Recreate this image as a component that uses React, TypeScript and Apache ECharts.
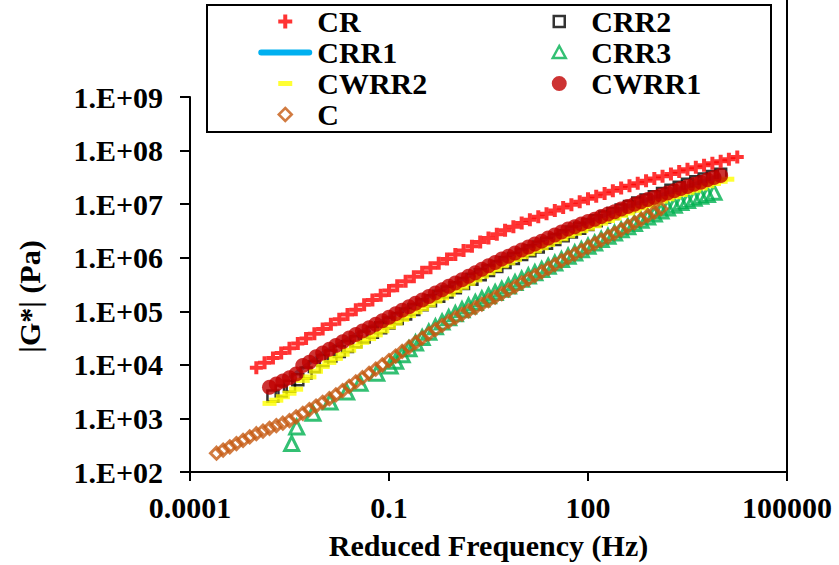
import React, { useEffect, useRef } from "react";
import * as echarts from "echarts";

const FONT = "Liberation Serif";

// Frequency grid, 10 points per decade (2.51e-4 ... 1.26e4 Hz)
const freqTenth = [
  2.51e-4, 3.16e-4, 3.98e-4, 5.01e-4, 6.31e-4, 7.94e-4,
  1.0e-3, 1.26e-3, 1.58e-3, 2.0e-3, 2.51e-3, 3.16e-3, 3.98e-3, 5.01e-3, 6.31e-3, 7.94e-3,
  1.0e-2, 1.26e-2, 1.58e-2, 2.0e-2, 2.51e-2, 3.16e-2, 3.98e-2, 5.01e-2, 6.31e-2, 7.94e-2,
  0.1, 0.126, 0.158, 0.2, 0.251, 0.316, 0.398, 0.501, 0.631, 0.794,
  1, 1.26, 1.58, 2.0, 2.51, 3.16, 3.98, 5.01, 6.31, 7.94,
  10, 12.6, 15.8, 20, 25.1, 31.6, 39.8, 50.1, 63.1, 79.4,
  100, 126, 158, 200, 251, 316, 398, 501, 631, 794,
  1000, 1260, 1580, 2000, 2510, 3160, 3980, 5010, 6310, 7940,
  10000, 12600,
];

// Frequency grid, 8 points per decade (1e-3 ... 1.78e4 Hz)
const freqEighth = [
  1.0e-3, 1.33e-3, 1.78e-3, 2.37e-3, 3.16e-3, 4.22e-3, 5.62e-3, 7.5e-3,
  1.0e-2, 1.33e-2, 1.78e-2, 2.37e-2, 3.16e-2, 4.22e-2, 5.62e-2, 7.5e-2,
  0.1, 0.133, 0.178, 0.237, 0.316, 0.422, 0.562, 0.75,
  1, 1.33, 1.78, 2.37, 3.16, 4.22, 5.62, 7.5,
  10, 13.3, 17.8, 23.7, 31.6, 42.2, 56.2, 75,
  100, 133, 178, 237, 316, 422, 562, 750,
  1000, 1330, 1780, 2370, 3160, 4220, 5620, 7500,
  10000, 13300, 17800,
];

const crFreq = freqEighth;
const crG = [
  8.81e3, 1.09e4, 1.34e4, 1.66e4, 2.04e4, 2.51e4, 3.09e4, 3.8e4,
  4.68e4, 5.75e4, 7.08e4, 8.71e4, 1.07e5, 1.32e5, 1.62e5, 2.0e5,
  2.45e5, 2.99e5, 3.63e5, 4.42e5, 5.37e5, 6.49e5, 7.85e5, 9.5e5,
  1.15e6, 1.37e6, 1.64e6, 1.96e6, 2.34e6, 2.75e6, 3.24e6, 3.8e6,
  4.47e6, 5.1e6, 5.82e6, 6.65e6, 7.59e6, 8.61e6, 9.77e6, 1.11e7,
  1.26e7, 1.41e7, 1.58e7, 1.78e7, 2.0e7, 2.21e7, 2.45e7, 2.72e7,
  3.02e7, 3.33e7, 3.67e7, 4.05e7, 4.47e7, 4.87e7, 5.31e7, 5.79e7,
  6.31e7, 6.92e7, 7.59e7,
];

const crr2Freq = freqEighth.slice(2, 57);
const crr2G = [
  2.63e3, 3.24e3, 3.98e3, 5.25e3, 7.08e3, 9.33e3,
  1.2e4, 1.46e4, 1.78e4, 2.19e4, 2.69e4, 3.31e4, 4.07e4, 4.95e4,
  6.03e4, 7.33e4, 8.91e4, 1.08e5, 1.32e5, 1.58e5, 1.91e5, 2.29e5,
  2.75e5, 3.31e5, 3.98e5, 4.79e5, 5.75e5, 6.84e5, 8.13e5, 9.66e5,
  1.15e6, 1.35e6, 1.58e6, 1.86e6, 2.19e6, 2.57e6, 3.02e6, 3.55e6,
  4.17e6, 4.9e6, 5.75e6, 6.68e6, 7.76e6, 9.02e6, 1.05e7, 1.2e7,
  1.38e7, 1.58e7, 1.82e7, 2.07e7, 2.34e7, 2.63e7, 2.95e7, 3.27e7,
  3.63e7,
];

const crr1Freq = [3.16e-3, 1e-2, 3.16e-2, 0.1, 0.316, 1, 3.16, 10, 31.6, 100, 316, 1000, 3160, 10000];
const crr1G = [5.75e3, 1.66e4, 3.67e4, 7.76e4, 1.62e5, 3.39e5, 7.08e5, 1.4e6, 2.66e6, 4.73e6, 8.13e6, 1.33e7, 2.14e7, 3.43e7];

const crr3LowFreq = [3.41e-3, 4.06e-3, 7.14e-3, 1.29e-2, 2.3e-2, 3.66e-2, 6.53e-2, 0.104];
const crr3Freq = crr3LowFreq.concat(freqTenth.slice(27, 76));
const crr3G = [
  3.4e2, 6.9e2, 1.25e3, 2.03e3, 3.12e3, 4.54e3, 6.98e3, 9.5e3,
  1.17e4, 1.55e4, 2.0e4, 2.57e4, 3.24e4, 4.07e4, 5.13e4, 6.31e4, 7.59e4,
  9.02e4, 1.07e5, 1.26e5, 1.46e5, 1.7e5, 1.95e5, 2.24e5, 2.57e5, 2.95e5, 3.43e5,
  3.98e5, 4.57e5, 5.25e5, 6.03e5, 6.92e5, 7.94e5, 9.23e5, 1.07e6, 1.23e6, 1.41e6,
  1.64e6, 1.88e6, 2.19e6, 2.51e6, 2.88e6, 3.31e6, 3.8e6, 4.37e6, 5.01e6, 5.75e6,
  6.53e6, 7.41e6, 8.51e6, 9.55e6, 1.07e7, 1.17e7, 1.29e7, 1.4e7, 1.51e7, 1.66e7,
];

const cwrr2Freq = freqTenth.slice(8, 78);
const cwrr2G = [
  1.91e3, 2.19e3, 2.54e3, 2.95e3, 3.51e3, 5.13e3, 5.96e3, 7.59e3,
  9.33e3, 1.11e4, 1.32e4, 1.58e4, 1.88e4, 2.21e4, 2.63e4, 3.09e4, 3.63e4, 4.32e4,
  5.13e4, 6.03e4, 7.08e4, 8.32e4, 9.77e4, 1.12e5, 1.32e5, 1.55e5, 1.78e5, 2.09e5,
  2.45e5, 2.82e5, 3.31e5, 3.85e5, 4.52e5, 5.25e5, 6.03e5, 7.08e5, 8.04e5, 9.23e5,
  1.05e6, 1.19e6, 1.35e6, 1.53e6, 1.76e6, 2.0e6, 2.26e6, 2.57e6, 2.85e6, 3.2e6,
  3.55e6, 3.94e6, 4.42e6, 4.95e6, 5.5e6, 6.17e6, 6.84e6, 7.67e6, 8.51e6, 9.33e6,
  1.04e7, 1.14e7, 1.26e7, 1.38e7, 1.51e7, 1.66e7, 1.82e7, 2.0e7, 2.21e7, 2.43e7,
  2.66e7, 2.92e7,
];

const cwrr1Freq = freqTenth.slice(8, 77);
const cwrr1G = [
  3.8e3, 4.37e3, 5.01e3, 5.75e3, 6.76e3, 9.77e3, 1.12e4, 1.41e4,
  1.66e4, 1.95e4, 2.29e4, 2.69e4, 3.16e4, 3.67e4, 4.27e4, 4.95e4, 5.75e4, 6.68e4,
  7.76e4, 9.02e4, 1.05e5, 1.22e5, 1.41e5, 1.62e5, 1.88e5, 2.19e5, 2.51e5, 2.92e5,
  3.39e5, 3.89e5, 4.52e5, 5.25e5, 6.1e5, 7.08e5, 8.13e5, 9.44e5, 1.07e6, 1.23e6,
  1.4e6, 1.58e6, 1.8e6, 2.04e6, 2.34e6, 2.66e6, 3.02e6, 3.43e6, 3.8e6, 4.27e6,
  4.73e6, 5.25e6, 5.89e6, 6.53e6, 7.24e6, 8.13e6, 9.02e6, 1.0e7, 1.11e7, 1.22e7,
  1.33e7, 1.46e7, 1.62e7, 1.78e7, 1.95e7, 2.14e7, 2.34e7, 2.57e7, 2.85e7, 3.13e7,
  3.43e7,
];

const cFreq = freqTenth.slice(0, 68);
const cG = [
  2.24e2, 2.57e2, 2.95e2, 3.39e2, 3.89e2, 4.52e2,
  5.19e2, 5.82e2, 6.53e2, 7.33e2, 8.13e2, 9.12e2, 1.07e3, 1.24e3, 1.46e3, 1.7e3,
  2.0e3, 2.34e3, 2.75e3, 3.31e3, 3.98e3, 4.79e3, 5.75e3, 6.92e3, 8.32e3, 1.0e4,
  1.2e4, 1.46e4, 1.78e4, 2.14e4, 2.6e4, 3.16e4, 3.8e4, 4.57e4, 5.43e4, 6.46e4,
  7.59e4, 8.81e4, 1.02e5, 1.17e5, 1.36e5, 1.58e5, 1.84e5, 2.14e5, 2.48e5, 2.88e5,
  3.39e5, 3.98e5, 4.62e5, 5.43e5, 6.31e5, 7.41e5, 8.71e5, 1.01e6, 1.17e6, 1.36e6,
  1.58e6, 1.84e6, 2.14e6, 2.45e6, 2.85e6, 3.31e6, 3.85e6, 4.47e6, 5.19e6, 6.1e6,
  7.08e6, 8.22e6,
];

const xTickValues = [0.0001, 0.1, 100, 100000];
const yTickValues = [1e2, 1e3, 1e4, 1e5, 1e6, 1e7, 1e8, 1e9];

const COLORS = {
  CR: "#FF0000",
  CRR2: "#000000",
  CRR1: "#00B0F0",
  CRR3: "#00B050",
  CWRR2: "#FFFF00",
  CWRR1: "#C00000",
  C: "#C55A11",
};

const PLUS = "path://M4.5,0H8.5V4.5H13V8.5H8.5V13H4.5V8.5H0V4.5H4.5Z";
const PAD = "M0,0M54,16";
const LEG_ICON = {
  CR: `path://${PAD}M25,1H29V6H34V10H29V15H25V10H20V6H25Z`,
  CRR1: `path://${PAD}M2.5,5H51.5A3,3,0,0,1,51.5,11H2.5A3,3,0,0,1,2.5,5Z`,
  CWRR2: `path://${PAD}M20,5.5H34V10.5H20Z`,
  C: `path://${PAD}M27,1.5L33.5,8L27,14.5L20.5,8Z`,
  CRR2: `path://${PAD}M21.5,2.5H32.5V13.5H21.5Z`,
  CRR3: `path://${PAD}M27,1.5L33.5,13.5H20.5Z`,
  CWRR1: `path://${PAD}M34.5,8A7.5,7.5,0,1,1,19.5,8A7.5,7.5,0,1,1,34.5,8Z`,
};

const zip = (f: number[], g: number[]) => g.map((v, i) => [f[i], v]);

const textBold = { fontFamily: FONT, fontSize: 30, fontWeight: "bold" as const, color: "#000" };

const filled = (c: string) => ({ color: c, borderWidth: 0 });
const hollow = (c: string, w = 2.5) => ({ color: "rgba(0,0,0,0)", borderColor: c, borderWidth: w });

const legendCommon = {
  top: 6,
  orient: "vertical" as const,
  itemWidth: 54,
  itemHeight: 16,
  itemGap: 0,
  padding: 0,
  selectedMode: false,
  z: 5,
  textStyle: { ...textBold, lineHeight: 31 },
};

export default function App() {
  const ref = useRef<HTMLDivElement>(null);
  useEffect(() => {
    document.body.style.margin = "0";
    const chart = echarts.init(ref.current!, null, { renderer: "svg" });
    chart.setOption({
      animation: false,
      backgroundColor: "#fff",
      grid: { left: 190, right: 52, top: 97, bottom: 93, containLabel: false, outerBoundsMode: "none" },
      xAxis: {
        type: "log",
        logBase: 10,
        min: 1e-4,
        max: 1e5,
        name: "Reduced Frequency (Hz)",
        nameLocation: "middle",
        nameGap: 58,
        nameTextStyle: textBold,
        axisLine: { show: true, onZero: false, lineStyle: { color: "#000", width: 2 } },
        axisTick: { show: true, length: 9, customValues: xTickValues, lineStyle: { color: "#000", width: 2 } },
        axisLabel: {
          ...textBold,
          margin: 20,
          customValues: xTickValues,
          formatter: (v: number) => String(Number(v.toPrecision(6))),
        },
        splitLine: { show: false },
        minorTick: { show: false },
      },
      yAxis: {
        type: "log",
        logBase: 10,
        min: 1e2,
        max: 1e9,
        name: "|G*| (Pa)",
        nameLocation: "middle",
        nameGap: 146,
        nameTextStyle: { ...textBold, padding: [0, 24, 0, 0] },
        axisLine: { show: true, onZero: false, lineStyle: { color: "#000", width: 2 } },
        axisTick: { show: true, length: 10, customValues: yTickValues, lineStyle: { color: "#000", width: 2 } },
        axisLabel: {
          ...textBold,
          margin: 27,
          customValues: yTickValues,
          formatter: (v: number) => "1.E+" + String(Math.round(Math.log10(v))).padStart(2, "0"),
        },
        splitLine: { show: false },
        minorTick: { show: false },
      },
      legend: [
        {
          ...legendCommon,
          left: 257,
          data: [
            { name: "CR", icon: LEG_ICON.CR, itemStyle: filled(COLORS.CR) },
            { name: "CRR1", icon: LEG_ICON.CRR1, itemStyle: filled(COLORS.CRR1) },
            { name: "CWRR2", icon: LEG_ICON.CWRR2, itemStyle: filled(COLORS.CWRR2) },
            { name: "C", icon: LEG_ICON.C, itemStyle: hollow(COLORS.C) },
          ],
        },
        {
          ...legendCommon,
          left: 531,
          data: [
            { name: "CRR2", icon: LEG_ICON.CRR2, itemStyle: hollow(COLORS.CRR2) },
            { name: "CRR3", icon: LEG_ICON.CRR3, itemStyle: hollow(COLORS.CRR3) },
            { name: "CWRR1", icon: LEG_ICON.CWRR1, itemStyle: filled(COLORS.CWRR1) },
          ],
        },
      ],
      graphic: [
        {
          type: "rect",
          z: 3,
          shape: { x: 207, y: 5, width: 564, height: 127 },
          style: { fill: "#fff", stroke: "#000", lineWidth: 2 },
        },
        {
          type: "line",
          z: 3,
          shape: { x1: 787, y1: 0, x2: 787, y2: 472 },
          style: { stroke: "#000", lineWidth: 2 },
        },
      ],
      series: [
        {
          name: "CR",
          type: "scatter",
          z: 2,
          data: zip(crFreq, crG),
          symbol: PLUS,
          symbolSize: 13,
          itemStyle: { color: COLORS.CR },
          emphasis: { disabled: true },
        },
        {
          name: "CRR2",
          type: "scatter",
          z: 1,
          data: zip(crr2Freq, crr2G),
          symbol: "rect",
          symbolSize: 11,
          itemStyle: hollow(COLORS.CRR2),
          emphasis: { disabled: true },
        },
        {
          name: "CRR1",
          type: "line",
          z: 1,
          zlevel: 0,
          data: zip(crr1Freq, crr1G),
          showSymbol: false,
          symbol: "none",
          lineStyle: { color: COLORS.CRR1, width: 4 },
          itemStyle: { color: COLORS.CRR1 },
          emphasis: { disabled: true },
        },
        {
          name: "CRR3",
          type: "scatter",
          z: 2,
          data: zip(crr3Freq, crr3G),
          symbol: "triangle",
          symbolSize: 14,
          itemStyle: hollow(COLORS.CRR3, 3),
          emphasis: { disabled: true },
        },
        {
          name: "CWRR2",
          type: "scatter",
          z: 2,
          data: zip(cwrr2Freq, cwrr2G),
          symbol: "rect",
          symbolSize: [14, 5],
          itemStyle: { color: COLORS.CWRR2 },
          emphasis: { disabled: true },
        },
        {
          name: "CWRR1",
          type: "scatter",
          z: 2,
          data: zip(cwrr1Freq, cwrr1G),
          symbol: "circle",
          symbolSize: 15,
          itemStyle: { color: COLORS.CWRR1 },
          emphasis: { disabled: true },
        },
        {
          name: "C",
          type: "scatter",
          z: 2,
          data: zip(cFreq, cG),
          symbol: "diamond",
          symbolSize: 12,
          itemStyle: hollow(COLORS.C, 3),
          emphasis: { disabled: true },
        },
      ],
    });
    return () => chart.dispose();
  }, []);
  return <div ref={ref} style={{ width: 839, height: 565 }} />;
}
